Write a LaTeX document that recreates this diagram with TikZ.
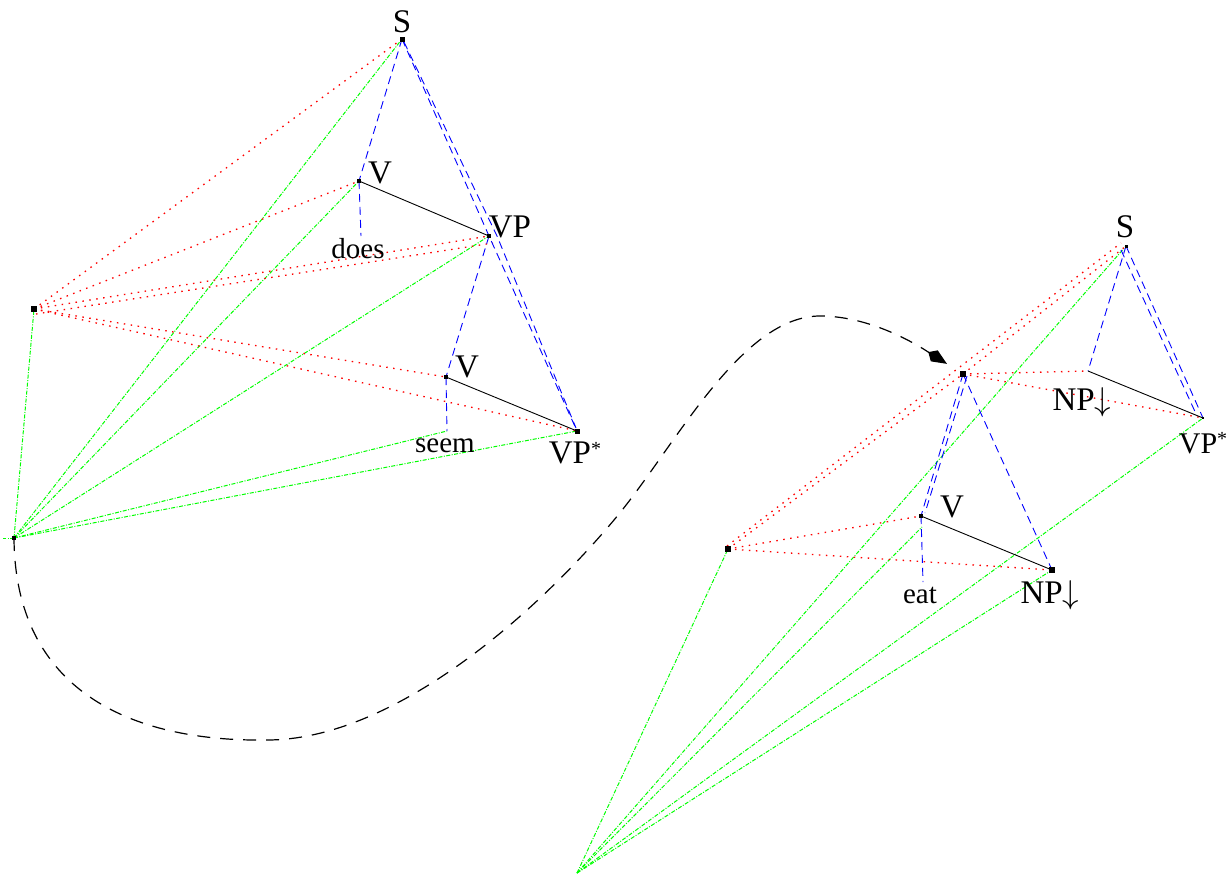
\RequirePackage{fix-cm}
\documentclass[tikz,border=0pt]{standalone}
\usepackage{fontspec}
\setmainfont{Liberation Serif}
\usetikzlibrary{arrows.meta}
\newcommand{\astsup}{\raisebox{8pt}{\fontsize{20}{20}\selectfont *}}
\begin{document}
\begin{tikzpicture}[x=1pt,y=-1pt,
  bl/.style={blue, line width=0.9pt, dash pattern=on 8pt off 5pt},
  rd/.style={red, line width=1.3pt, dash pattern=on 1.5pt off 5.5pt},
  gr/.style={green, line width=1pt, dash pattern=on 4pt off 1.5pt on 1pt off 1.5pt},
  sl/.style={black, line width=0.9pt},
  cv/.style={black, line width=1.2pt, dash pattern=on 13pt off 10pt},
  lab/.style={anchor=base, inner sep=0pt, font=\fontsize{33}{33}\selectfont},
  lab2/.style={anchor=base, inner sep=0pt, font=\fontsize{30}{30}\selectfont},
  wrd/.style={anchor=base, inner sep=0pt, font=\fontsize{29}{29}\selectfont},
]
\useasboundingbox (0,0) rectangle (1231,876);
% ---------- left tree points
\coordinate (S1) at (402,39);
\coordinate (V1) at (359,181);
\coordinate (VP1) at (489,236);
\coordinate (V2) at (446,377);
\coordinate (VPs1) at (577,431);
\coordinate (doesE) at (361,236);
\coordinate (seemE) at (447,431);
\coordinate (R1) at (34,309);
\coordinate (G1) at (14,538);
\coordinate (gstub) at (3,538);
% ---------- right tree points
\coordinate (S2) at (1126,246);
\coordinate (X) at (963,374);
\coordinate (NPu) at (1088,371);
\coordinate (VPs2) at (1203,418);
\coordinate (V3) at (921,516);
\coordinate (NPl) at (1052,570);
\coordinate (eatE) at (923,582);
\coordinate (eatG) at (922,527);
\coordinate (R2) at (728,549);
\coordinate (G2) at (577,873);
% curve helpers
\coordinate (c1) at (267,740);
\coordinate (c2) at (614,520);
\coordinate (c3) at (820,316);

% ---------- green lines
\draw[gr] (G1) -- (R1);
\draw[gr] (G1) -- (S1);
\draw[gr] (G1) -- (V1);
\draw[gr] (G1) -- (VP1);
\draw[gr] (G1) -- (seemE);
\draw[gr] (G1) -- (VPs1);
\draw[gr] (G1) -- (gstub);
\draw[gr] (G2) -- (R2);
\draw[gr] (G2) -- (S2);
\draw[gr] (G2) -- (eatG);
\draw[gr] (G2) -- (VPs2);
\draw[gr] (G2) -- (NPl);
% ---------- red lines
\draw[rd] (R1) -- (S1);
\draw[rd] (R1) -- (V1);
\draw[rd] (R1) -- (VP1);
\draw[rd] ([shift={(2,5)}]R1) -- ([shift={(4,7)}]VP1);
\draw[rd] (R1) -- (V2);
\draw[rd] (R1) -- (VPs1);
\draw[rd] (R2) -- (X);
\draw[rd] (X) -- (S2);
\draw[rd] ([shift={(-1,-3)}]R2) -- ([shift={(-5,-3)}]S2);
\draw[rd] (X) -- (NPu);
\draw[rd] (X) -- (VPs2);
\draw[rd] (R2) -- (V3);
\draw[rd] (R2) -- (NPl);
% ---------- blue dashed
\draw[bl] (S1) -- (V1);
\draw[bl] (S1) -- (VP1) -- (VPs1);
\draw[bl] ([shift={(2,3)}]S1) -- ([xshift=8pt]VP1) -- ([shift={(-1,-3)}]VPs1);
\draw[bl] (VP1) -- (V2);
\draw[bl] (V1) -- (doesE);
\draw[bl] (V2) -- (seemE);
\draw[bl] (S2) -- (NPu);
\draw[bl] (S2) -- (VPs2);
\draw[bl] ([shift={(-5,4)}]S2) -- ([shift={(-6,-2)}]VPs2);
\draw[bl] (X) -- (V3);
\draw[bl] ([shift={(4,2)}]X) -- ([shift={(4,-3)}]V3);
\draw[bl] (X) -- (NPl);
\draw[bl] (V3) -- (eatE);
% ---------- solid
\draw[sl] (V1) -- (VP1);
\draw[sl] (V2) -- (VPs1);
\draw[sl] (NPu) -- (VPs2);
\draw[sl] (V3) -- (NPl);
% ---------- markers
\foreach \p/\s in {S1/2.5, V1/2, VP1/2.2, V2/2, VPs1/2.5, R1/2.8, G1/2.2, S2/1.5, X/2.8, V3/2.2, NPl/2.8, R2/2.8, VPs2/1}
  \fill[black] ([shift={(-\s,-\s)}]\p) rectangle ([shift={(\s,\s)}]\p);
% ---------- curve with arrow
\draw[cv, -{Kite[length=22pt,width=13pt,inset=7pt]}, shorten >=19pt]
  (G1) .. controls (15,690) and (130,742) .. (c1)
       .. controls (390,740) and (530,620) .. (c2)
       .. controls (674,449) and (740,316) .. (c3)
       .. controls (875,316) and (925,350) .. (X);
% ---------- labels
\node[lab] (lS1) at (402,32) {S};
\node[lab] (lV1) at (380,183) {V};
\node[lab] (lVP1) at (510,237) {VP};
\node[wrd] (ldoes) at (358,258) {does};
\node[lab] (lV2) at (467,377) {V};
\node[wrd] (lseem) at (445,452) {seem};
\node[lab] (lVPs1) at (575,463) {VP\astsup};
\node[lab] (lS2) at (1125,237) {S};
\node[lab] (lNPu) at (1082,410) {NP$\downarrow$};
\node[lab2] (lVPs2) at (1203,453) {VP\astsup};
\node[lab] (lV3) at (952,517) {V};
\node[lab] (lNPl) at (1050,603) {NP$\downarrow$};
\node[wrd] (leat) at (920,603) {eat};
\end{tikzpicture}
\end{document}
